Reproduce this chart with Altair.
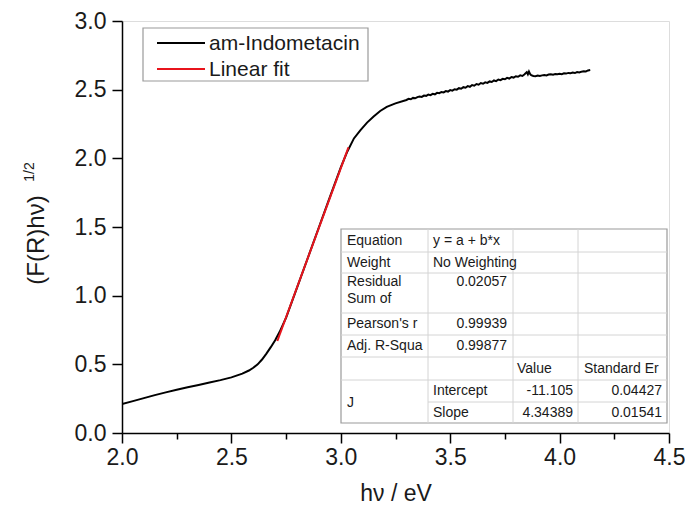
import altair as alt
import pandas as pd

# ---------------- data ----------------
energy = [2.00, 2.05, 2.10, 2.15, 2.20, 2.25, 2.30, 2.35, 2.40, 2.45, 2.50, 2.55, 2.58, 2.60,
          2.62, 2.64, 2.66, 2.68, 2.70, 2.72, 2.75, 2.80, 2.85, 2.90, 2.95, 3.00, 3.03, 3.06,
          3.09, 3.12, 3.15, 3.18, 3.21, 3.25,
          3.30, 3.31, 3.32, 3.33, 3.34, 3.35, 3.36, 3.37, 3.38, 3.39, 3.40, 3.41, 3.42, 3.43,
          3.44, 3.45, 3.46, 3.47, 3.48, 3.49, 3.50, 3.51, 3.52, 3.53, 3.54, 3.55, 3.56, 3.57,
          3.58, 3.59, 3.60, 3.61, 3.62, 3.63, 3.64, 3.65, 3.66, 3.67, 3.68, 3.69, 3.70, 3.71,
          3.72, 3.73, 3.74, 3.75, 3.76, 3.77, 3.78, 3.79, 3.80, 3.81, 3.82, 3.83, 3.84, 3.85,
          3.855, 3.86, 3.865, 3.87, 3.88, 3.89, 3.90, 3.91, 3.92, 3.93, 3.94, 3.95, 3.96, 3.97,
          3.98, 3.99, 4.00, 4.01, 4.02, 4.03, 4.04, 4.05, 4.06, 4.07, 4.08, 4.09, 4.10, 4.11,
          4.12, 4.13, 4.14]
signal = [0.210, 0.232, 0.254, 0.276, 0.296, 0.315, 0.333, 0.350, 0.367, 0.385, 0.405, 0.432, 0.455, 0.475,
          0.500, 0.535, 0.578, 0.625, 0.675, 0.735, 0.840, 1.058, 1.278, 1.498, 1.718, 1.934, 2.050, 2.145,
          2.205, 2.260, 2.305, 2.345, 2.375, 2.400,
          2.425, 2.433, 2.430, 2.440, 2.437, 2.446, 2.450, 2.447, 2.457, 2.455, 2.464, 2.460, 2.470, 2.466,
          2.477, 2.474, 2.483, 2.480, 2.490, 2.486, 2.497, 2.493, 2.503, 2.500, 2.511, 2.507, 2.518, 2.514,
          2.526, 2.521, 2.534, 2.529, 2.541, 2.536, 2.548, 2.543, 2.553, 2.549, 2.560, 2.556, 2.567, 2.562,
          2.574, 2.569, 2.579, 2.576, 2.586, 2.581, 2.592, 2.588, 2.598, 2.594, 2.604, 2.600, 2.612, 2.628,
          2.612, 2.632, 2.615, 2.606, 2.600, 2.598, 2.603, 2.600, 2.604, 2.607, 2.604, 2.610, 2.612, 2.609,
          2.614, 2.612, 2.616, 2.613, 2.619, 2.617, 2.622, 2.620, 2.624, 2.621, 2.628, 2.625, 2.631, 2.634,
          2.633, 2.640, 2.643]

fit_x = [2.71, 3.035]
fit_y = [0.67, 2.08]

series_names = ["am-Indometacin", "Linear fit"]
series_colors = ["#000000", "#e8141c"]

x_ticks = [2.0, 2.25, 2.5, 2.75, 3.0, 3.25, 3.5, 3.75, 4.0, 4.25, 4.5]
y_ticks = [0.0, 0.25, 0.5, 0.75, 1.0, 1.25, 1.5, 1.75, 2.0, 2.25, 2.5, 2.75, 3.0]

x_title = "hν / eV"
y_title_main = "(F(R)hν)"
y_title_sup = "1/2"

# fit-report table contents
tbl_left_col0 = ["Equation", "Weight", "Residual", "Sum of", "Pearson's r", "Adj. R-Squa", "J"]
tbl_left_col1 = ["y = a + b*x", "No Weighting", "Intercept", "Slope"]
tbl_num_col1 = ["0.02057", "0.99939", "0.99877"]
tbl_header = ["Value", "Standard Er"]
tbl_values = ["-11.105", "4.34389"]
tbl_errors = ["0.04427", "0.01541"]

# ---------------- layout ----------------
PAD_L, PAD_T, PAD_R, PAD_B = 114, 13, 16, 73
W, H = 547, 412
OX, OY = 8 + PAD_L, 8 + PAD_T          # plot origin in page pixels
XMIN, XMAX, YMIN, YMAX = 2.0, 4.5, 0.0, 3.0
FONT = "Liberation Sans"
TXT = "#1a1a1a"


def px2x(p):
    """page pixel x -> data x"""
    return XMIN + (p - OX) / W * (XMAX - XMIN)


def py2y(p):
    """page pixel y -> data y"""
    return YMAX - (p - OY) / H * (YMAX - YMIN)


xs = alt.Scale(domain=[XMIN, XMAX], nice=False, zero=False)
ys = alt.Scale(domain=[YMIN, YMAX], nice=False, zero=False)

minor_test = "round(datum.value*4) % 2 == 1"
label_expr = f"{minor_test} ? '' : format(datum.value, '.1f')"

x_axis = alt.Axis(values=x_ticks, labelExpr=label_expr, title=x_title, grid=False,
                  tickSize={"condition": {"test": minor_test, "value": 6}, "value": 10},
                  domainColor="black", domainWidth=1.5, tickColor="black", tickWidth=1.5,
                  labelFont=FONT, labelFontSize=23, labelColor=TXT, labelPadding=3,
                  labelFlush=False, labelOverlap=False, titleFont=FONT, titleFontSize=23,
                  titleFontWeight="normal", titleColor=TXT, titlePadding=13)
y_axis = alt.Axis(values=y_ticks, labelExpr=label_expr, title=None, grid=False,
                  tickSize={"condition": {"test": minor_test, "value": 6}, "value": 10},
                  domainColor="black", domainWidth=1.5, tickColor="black", tickWidth=1.5,
                  labelFont=FONT, labelFontSize=23, labelColor=TXT, labelPadding=6,
                  labelFlush=False, labelOverlap=False)

color = alt.Color("series:N", scale=alt.Scale(domain=series_names, range=series_colors), legend=None)

curve_df = pd.DataFrame({"x": energy, "y": signal, "series": series_names[0],
                         "i": list(range(len(energy)))})
fit_df = pd.DataFrame({"x": fit_x, "y": fit_y, "series": series_names[1],
                       "i": list(range(len(fit_x)))})

curve = alt.Chart(curve_df).mark_line(strokeWidth=2, clip=True).encode(
    x=alt.X("x:Q", scale=xs, axis=x_axis),
    y=alt.Y("y:Q", scale=ys, axis=y_axis),
    order="i:Q",
    color=color,
)
fit = alt.Chart(fit_df).mark_line(strokeWidth=2).encode(
    x=alt.X("x:Q", scale=xs),
    y=alt.Y("y:Q", scale=ys),
    order="i:Q",
    color=color,
)

# ---- legend box (page pixels) ----
leg_box = pd.DataFrame({"x": [px2x(143)], "x2": [px2x(368)], "y": [py2y(28)], "y2": [py2y(81)]})
legend_bg = alt.Chart(leg_box).mark_rect(fill="white", stroke="#9a9a9a", strokeWidth=1.2).encode(
    x=alt.X("x:Q", scale=xs), x2="x2:Q", y=alt.Y("y:Q", scale=ys), y2="y2:Q")
leg_rows = [43, 69]
leg_lines_df = pd.DataFrame({"series": series_names,
                             "x": [px2x(157)] * 2, "x2": [px2x(205)] * 2,
                             "y": [py2y(r) for r in leg_rows]})
legend_lines = alt.Chart(leg_lines_df).mark_rule(strokeWidth=2).encode(
    x=alt.X("x:Q", scale=xs), x2="x2:Q", y=alt.Y("y:Q", scale=ys), color=color)
leg_text_df = pd.DataFrame({"t": series_names, "x": [px2x(209)] * 2,
                            "y": [py2y(r + 1) for r in leg_rows]})
legend_text = alt.Chart(leg_text_df).mark_text(
    align="left", baseline="middle", font=FONT, fontSize=21, color=TXT).encode(
    x=alt.X("x:Q", scale=xs), y=alt.Y("y:Q", scale=ys), text="t:N")

# ---- table geometry (page pixels) ----
col_edges = [341, 428, 513, 578, 667]
row_edges = [229, 252, 273, 313, 335, 357, 380, 402, 423]

box = pd.DataFrame({"x": [px2x(col_edges[0])], "x2": [px2x(col_edges[-1])],
                    "y": [py2y(row_edges[0])], "y2": [py2y(row_edges[-1])]})
table_bg = alt.Chart(box).mark_rect(fill="white", stroke="#9a9a9a", strokeWidth=1.2).encode(
    x=alt.X("x:Q", scale=xs), x2="x2:Q", y=alt.Y("y:Q", scale=ys), y2="y2:Q")

hl = []
for k, r in enumerate(row_edges[1:-1], start=1):
    start = col_edges[1] if k == 7 else col_edges[0]
    hl.append({"x": px2x(start), "x2": px2x(col_edges[-1]), "y": py2y(r), "y2": py2y(r)})
for c in col_edges[1:-1]:
    hl.append({"x": px2x(c), "x2": px2x(c), "y": py2y(row_edges[0]), "y2": py2y(row_edges[-1])})
grid_lines = alt.Chart(pd.DataFrame(hl)).mark_rule(color="#d4d4d4", strokeWidth=1).encode(
    x=alt.X("x:Q", scale=xs), x2="x2:Q", y=alt.Y("y:Q", scale=ys), y2="y2:Q")

left_cells = []
col0_y = [240.5, 262.5, 281.7, 299, 324, 346, 403]
for t, yy in zip(tbl_left_col0, col0_y):
    left_cells.append({"t": t, "x": px2x(347), "y": py2y(yy)})
col1_y = [240.5, 262.5, 391, 412.5]
for t, yy in zip(tbl_left_col1, col1_y):
    left_cells.append({"t": t, "x": px2x(433), "y": py2y(yy)})
for t, xx in zip(tbl_header, [517, 584]):
    left_cells.append({"t": t, "x": px2x(xx), "y": py2y(368.5)})

right_cells = []
for t, yy in zip(tbl_num_col1, [281.7, 324, 346]):
    right_cells.append({"t": t, "x": px2x(507), "y": py2y(yy)})
for t, yy in zip(tbl_values, [391, 412.5]):
    right_cells.append({"t": t, "x": px2x(573), "y": py2y(yy)})
for t, yy in zip(tbl_errors, [391, 412.5]):
    right_cells.append({"t": t, "x": px2x(662), "y": py2y(yy)})

text_left = alt.Chart(pd.DataFrame(left_cells)).mark_text(
    align="left", baseline="middle", font=FONT, fontSize=14, color=TXT).encode(
    x=alt.X("x:Q", scale=xs), y=alt.Y("y:Q", scale=ys), text="t:N")
text_right = alt.Chart(pd.DataFrame(right_cells)).mark_text(
    align="right", baseline="middle", font=FONT, fontSize=14, color=TXT).encode(
    x=alt.X("x:Q", scale=xs), y=alt.Y("y:Q", scale=ys), text="t:N")

# ---- y axis title with superscript (offsets from the plot origin) ----
ytitle = alt.Chart(pd.DataFrame({"t": [y_title_main]})).mark_text(
    angle=270, align="center", baseline="middle", font=FONT, fontSize=24, color=TXT).encode(
    text="t:N", x=alt.value(37 - OX), y=alt.value(240 - OY))
ysup = alt.Chart(pd.DataFrame({"t": [y_title_sup]})).mark_text(
    angle=270, align="center", baseline="middle", font=FONT, fontSize=14, color=TXT).encode(
    text="t:N", x=alt.value(30 - OX), y=alt.value(172 - OY))

chart = alt.layer(curve, fit, table_bg, grid_lines, text_left, text_right,
                  legend_bg, legend_lines, legend_text, ytitle, ysup).properties(
    width=W, height=H,
    autosize=alt.AutoSizeParams(type="none"),
    padding={"left": PAD_L, "top": PAD_T, "right": PAD_R, "bottom": PAD_B},
).configure_view(stroke=None).configure(font=FONT, background="white")

chart.save("out.html", embed_options={"renderer": "svg", "actions": False})
